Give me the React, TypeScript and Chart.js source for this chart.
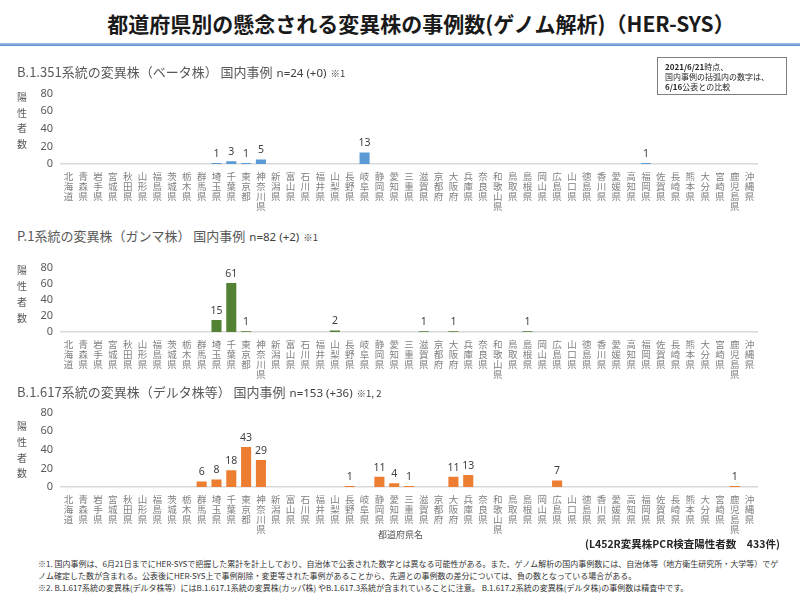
import React, { useEffect, useRef } from "react";
import { Chart, registerables } from "chart.js";

Chart.register(...registerables);

const prefectures = [
  "北海道", "青森県", "岩手県", "宮城県", "秋田県", "山形県", "福島県", "茨城県", "栃木県", "群馬県",
  "埼玉県", "千葉県", "東京都", "神奈川県", "新潟県", "富山県", "石川県", "福井県", "山梨県", "長野県",
  "岐阜県", "静岡県", "愛知県", "三重県", "滋賀県", "京都府", "大阪府", "兵庫県", "奈良県", "和歌山県",
  "鳥取県", "島根県", "岡山県", "広島県", "山口県", "徳島県", "香川県", "愛媛県", "高知県", "福岡県",
  "佐賀県", "長崎県", "熊本県", "大分県", "宮崎県", "鹿児島県", "沖縄県",
];

// B.1.351 (ベータ株)
const betaCounts = [
  0, 0, 0, 0, 0, 0, 0, 0, 0, 0,
  1, 3, 1, 5, 0, 0, 0, 0, 0, 0,
  13, 0, 0, 0, 0, 0, 0, 0, 0, 0,
  0, 0, 0, 0, 0, 0, 0, 0, 0, 1,
  0, 0, 0, 0, 0, 0, 0,
];

// P.1 (ガンマ株)
const gammaCounts = [
  0, 0, 0, 0, 0, 0, 0, 0, 0, 0,
  15, 61, 1, 0, 0, 0, 0, 0, 2, 0,
  0, 0, 0, 0, 1, 0, 1, 0, 0, 0,
  0, 1, 0, 0, 0, 0, 0, 0, 0, 0,
  0, 0, 0, 0, 0, 0, 0,
];

// B.1.617 (デルタ株等)
const deltaCounts = [
  0, 0, 0, 0, 0, 0, 0, 0, 0, 6,
  8, 18, 43, 29, 0, 0, 0, 0, 0, 1,
  0, 11, 4, 1, 0, 0, 11, 13, 0, 0,
  0, 0, 0, 7, 0, 0, 0, 0, 0, 0,
  0, 0, 0, 0, 0, 1, 0,
];

const yMin = 0;
const yMax = 80;
const yStep = 20;

const panelTitles = [
  { main: "B.1.351系統の変異株（ベータ株） 国内事例", n: "n=24 (+0)", note: "※1" },
  { main: "P.1系統の変異株（ガンマ株） 国内事例", n: "n=82 (+2)", note: "※1" },
  { main: "B.1.617系統の変異株（デルタ株等） 国内事例", n: "n=153 (+36)", note: "※1, 2" },
];

const CJK = "'Noto Sans CJK JP', 'Noto Sans', sans-serif";
const LATIN = "'Noto Sans', 'Noto Sans CJK JP', sans-serif";

const valueLabelPlugin = {
  id: "valueLabels",
  afterDatasetsDraw(chart: any) {
    const ctx = chart.ctx;
    const meta = chart.getDatasetMeta(0);
    const data = chart.data.datasets[0].data as number[];
    ctx.save();
    ctx.font = "10.5px " + LATIN;
    ctx.fillStyle = "#404040";
    ctx.textAlign = "center";
    ctx.textBaseline = "bottom";
    meta.data.forEach((el: any, i: number) => {
      const v = data[i];
      if (v > 0) ctx.fillText(String(v), el.x, el.y - 4);
    });
    ctx.restore();
  },
};

type PanelProps = {
  areaTop: number;
  areaBottom: number;
  values: number[];
  color: string;
};

const PAD_TOP = 10;
const X_AXIS_H = 56;
const AREA_LEFT = 61;
const AREA_RIGHT = 757;

function BarPanel({ areaTop, areaBottom, values, color }: PanelProps) {
  const ref = useRef<HTMLCanvasElement | null>(null);
  const canvasTop = areaTop - PAD_TOP;
  const canvasH = areaBottom - canvasTop + X_AXIS_H;

  useEffect(() => {
    if (!ref.current) return;
    const chart = new Chart(ref.current, {
      type: "bar",
      data: {
        labels: prefectures.map((p) => p.split("")),
        datasets: [
          {
            data: values,
            backgroundColor: color,
            borderWidth: 0,
            categoryPercentage: 1,
            barPercentage: 0.68,
          },
        ],
      },
      options: {
        responsive: false,
        animation: false,
        events: [],
        layout: { padding: { top: PAD_TOP, left: 0, right: 800 - AREA_RIGHT, bottom: 0 } },
        plugins: { legend: { display: false }, tooltip: { enabled: false }, title: { display: false } },
        scales: {
          x: {
            grid: { display: false, drawTicks: false },
            border: { display: true, color: "#d9d9d9", width: 1.5 },
            ticks: {
              autoSkip: false,
              maxRotation: 0,
              minRotation: 0,
              padding: 8,
              color: "#808080",
              font: { family: CJK, size: 9.5, lineHeight: 1.02 },
            },
            afterFit: (axis: any) => {
              axis.height = X_AXIS_H;
            },
          },
          y: {
            min: yMin,
            max: yMax,
            grid: { display: false, drawTicks: false },
            border: { display: false },
            ticks: {
              stepSize: yStep,
              autoSkip: false,
              maxTicksLimit: 11,
              padding: 8,
              color: "#595959",
              font: { family: LATIN, size: 11 },
            },
            afterFit: (axis: any) => {
              axis.width = AREA_LEFT;
            },
          },
        },
      },
      plugins: [valueLabelPlugin],
    } as any);
    return () => chart.destroy();
  }, [values, color]);

  return (
    <canvas
      ref={ref}
      width={800}
      height={canvasH}
      style={{ position: "absolute", left: 0, top: canvasTop, width: 800, height: canvasH }}
    />
  );
}

function Subtitle({ top, idx }: { top: number; idx: number }) {
  const t = panelTitles[idx];
  return (
    <div
      style={{
        position: "absolute",
        left: 17,
        top: top - 9,
        height: 18,
        lineHeight: "18px",
        whiteSpace: "nowrap",
        zIndex: 2,
      }}
    >
      <span style={{ fontFamily: CJK, fontSize: 13, color: "#595959" }}>{t.main}</span>
      <span style={{ fontFamily: LATIN, fontSize: 11.5, color: "#404040", marginLeft: 4 }}>{t.n}</span>
      <span style={{ fontFamily: CJK, fontSize: 9.5, color: "#404040", marginLeft: 4 }}>{t.note}</span>
    </div>
  );
}

function YTitle({ top, spacing }: { top: number; spacing: number }) {
  return (
    <div
      style={{
        position: "absolute",
        left: 16,
        top: top - spacing / 2,
        width: 12,
        textAlign: "center",
        fontFamily: CJK,
        fontSize: 10,
        lineHeight: spacing + "px",
        color: "#595959",
        zIndex: 2,
      }}
    >
      {"陽性者数".split("").map((c, i) => (
        <div key={i}>{c}</div>
      ))}
    </div>
  );
}

export default function App() {
  return (
    <div
      style={{
        position: "absolute",
        left: 0,
        top: 0,
        width: 800,
        height: 603,
        background: "#ffffff",
        overflow: "hidden",
      }}
    >
      <div
        style={{
          position: "absolute",
          left: 0,
          width: 842,
          top: 9,
          height: 28,
          lineHeight: "28px",
          textAlign: "center",
          fontFamily: CJK,
          fontWeight: 700,
          fontSize: 21,
          color: "#1a1a1a",
          whiteSpace: "nowrap",
        }}
      >
        都道府県別の懸念される変異株の事例数(ゲノム解析)（HER-SYS）
      </div>
      <div
        style={{
          position: "absolute",
          left: 0,
          top: 43,
          width: 800,
          height: 3,
          background: "linear-gradient(to bottom, #a9c4e8, #5b8fd0)",
        }}
      />

      <div
        style={{
          position: "absolute",
          left: 657,
          top: 57,
          width: 130,
          height: 38,
          border: "1px solid #7f7f7f",
          fontFamily: CJK,
          fontSize: 8,
          lineHeight: "10px",
          color: "#262626",
          padding: "4px 0 0 7px",
          boxSizing: "border-box",
          whiteSpace: "nowrap",
          zIndex: 2,
        }}
      >
        <div>
          <b>2021/6/21</b>時点、
        </div>
        <div>国内事例の括弧内の数字は、</div>
        <div>
          <b>6/16</b>公表との比較
        </div>
      </div>

      <Subtitle top={72} idx={0} />
      <Subtitle top={236} idx={1} />
      <Subtitle top={392} idx={2} />

      <YTitle top={97} spacing={15.4} />
      <YTitle top={270} spacing={16} />
      <YTitle top={426} spacing={15.7} />

      <BarPanel areaTop={89} areaBottom={164} values={betaCounts} color="#5b9bd5" />
      <BarPanel areaTop={263} areaBottom={332} values={gammaCounts} color="#548235" />
      <BarPanel areaTop={408} areaBottom={487} values={deltaCounts} color="#ed7d31" />

      <div
        style={{
          position: "absolute",
          left: 378,
          top: 529,
          lineHeight: "12px",
          fontFamily: CJK,
          fontSize: 9,
          color: "#595959",
          whiteSpace: "nowrap",
          zIndex: 2,
        }}
      >
        都道府県名
      </div>
      <div
        style={{
          position: "absolute",
          left: 585,
          top: 537,
          lineHeight: "14px",
          fontFamily: CJK,
          fontSize: 10.5,
          fontWeight: 700,
          color: "#262626",
          whiteSpace: "nowrap",
          zIndex: 2,
        }}
      >
        (L452R変異株PCR検査陽性者数　433件)
      </div>

      <div
        style={{
          position: "absolute",
          left: 38,
          top: 558,
          fontFamily: CJK,
          fontSize: 8,
          lineHeight: "12px",
          color: "#333333",
          whiteSpace: "nowrap",
          zIndex: 2,
        }}
      >
        <div>
          ※1. 国内事例は、6月21日までにHER-SYSで把握した累計を計上しており、自治体で公表された数字とは異なる可能性がある。また、ゲノム解析の国内事例数には、自治体等（地方衛生研究所・大学等）でゲ
        </div>
        <div>
          ノム確定した数が含まれる。公表後にHER-SYS上で事例削除・変更等された事例があることから、先週との事例数の差分については、負の数となっている場合がある。
        </div>
        <div>
          ※2. B.1.617系統の変異株(デルタ株等）にはB.1.617.1系統の変異株(カッパ株) やB.1.617.3系統が含まれていることに注意。 B.1.617.2系統の変異株(デルタ株)の事例数は精査中です。
        </div>
      </div>
    </div>
  );
}
